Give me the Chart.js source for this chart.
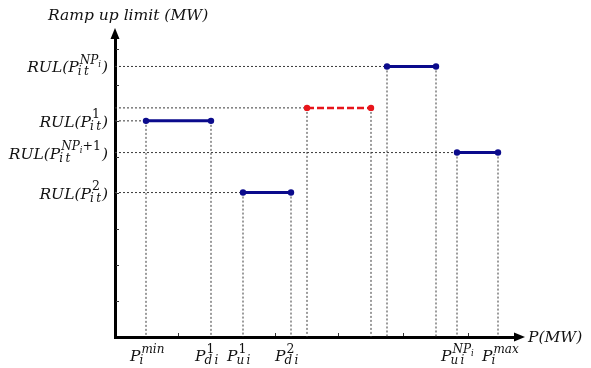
<!DOCTYPE html>
<html>
<head>
<meta charset="utf-8">
<script src="https://cdn.jsdelivr.net/npm/chart.js@4.4.1/dist/chart.umd.min.js"></script>
<style>
  body { margin: 0; background: #fff; }
</style>
</head>
<body>
<canvas id="chart" width="591" height="368"></canvas>
<script>
// step segments (P in MW along x, ramp up limit along y)
const segStart = [3.1, 12.8, 19.2, 27.2, 34.2];
const segEnd   = [9.6, 17.6, 25.6, 32.1, 38.3];
const segLevel = [6.0, 4.01, 6.36, 7.51, 5.12];
const segName  = ['RUL(P1)', 'RUL(P2)', 'projected', 'RUL(PNP)', 'RUL(PNP+1)'];
const projectedIdx = 2;

// tick labels
const yTickValues = [7.51, 6.0, 5.12, 4.01];
const yTickSup    = ['NP_i', '1', 'NP_i+1', '2'];
const yTickSub    = ['i t', 'i t', 'i t', 'i t'];
const xTickValues = [3.1, 9.6, 12.8, 17.6, 34.2, 38.3];
const xTickSup    = ['min', '1', '1', '2', 'NP_i', 'max'];
const xTickSub    = ['i', 'd i', 'u i', 'd i', 'u i', 'i'];

// small tick marks on the axes
const yMinorTicks = [1, 2, 3, 4, 5, 6, 7, 8];
const xMinorTicks = [6.3, 16.0, 22.3, 28.8, 35.3];

const serif = "'DejaVu Serif', 'Liberation Serif', serif";
const mainFont = 'italic 15.5px ' + serif;
const scriptFont = 'italic 12px ' + serif;
const digitFont = '12.5px ' + serif;
const tinyFont = 'italic 8.5px ' + serif;

function guide(x1, y1, x2, y2) {
    return {
        data: [{x: x1, y: y1}, {x: x2, y: y2}],
        showLine: true,
        borderColor: '#3a3a3a',
        borderWidth: 1,
        borderDash: [2, 2],
        pointRadius: 0,
        order: 2
    };
}

const datasets = [];
segStart.forEach(function (s, i) {
    datasets.push(guide(0, segLevel[i], s, segLevel[i]));
    datasets.push(guide(s, segLevel[i], s, 0));
    datasets.push(guide(segEnd[i], segLevel[i], segEnd[i], 0));
});
segStart.forEach(function (s, i) {
    const proj = i === projectedIdx;
    const col = proj ? '#e8151b' : '#0b0b8c';
    datasets.push({
        label: segName[i],
        data: [{x: s, y: segLevel[i]}, {x: segEnd[i], y: segLevel[i]}],
        showLine: true,
        borderColor: col,
        backgroundColor: col,
        pointBackgroundColor: col,
        pointBorderColor: col,
        borderWidth: proj ? 2.5 : 3,
        borderDash: proj ? [7, 3] : [],
        pointRadius: 3.2,
        pointBorderWidth: 0,
        order: 1
    });
});

// 'NP_i+1' -> runs; the char after '_' is lowered one more level
function parseScript(str) {
    const runs = [];
    let cur = '';
    for (let k = 0; k < str.length; k++) {
        if (str[k] === '_') {
            if (cur) runs.push({t: cur, low: false});
            cur = '';
            runs.push({t: str[k + 1], low: true});
            k++;
        } else {
            cur += str[k];
        }
    }
    if (cur) runs.push({t: cur, low: false});
    return runs;
}

function runFont(r) {
    if (r.low) return tinyFont;
    return /^[0-9+]+$/.test(r.t) ? digitFont : scriptFont;
}

function scriptWidth(ctx, runs) {
    let w = 0;
    runs.forEach(function (r) {
        ctx.font = runFont(r);
        w += ctx.measureText(r.t).width;
    });
    return w;
}

// draws prefix + P with sup/sub + suffix, starting at x
function drawMath(ctx, x, base, prefix, sup, sub, suffix) {
    ctx.font = mainFont;
    ctx.fillText(prefix, x, base);
    x += ctx.measureText(prefix).width + 1;
    const runs = parseScript(sup);
    let sx = x;
    runs.forEach(function (r) {
        ctx.font = runFont(r);
        ctx.fillText(r.t, sx, base - 8.5 + (r.low ? 3 : 0));
        sx += ctx.measureText(r.t).width;
    });
    ctx.font = scriptFont;
    const subTxt = sub.replace(' ', '\u2009');
    ctx.fillText(subTxt, x - 2, base + 3);
    const w = Math.max(sx - x, ctx.measureText(subTxt).width - 2);
    ctx.font = mainFont;
    ctx.fillText(suffix, x + w + 1, base);
}

function mathWidth(ctx, prefix, sup, sub, suffix) {
    ctx.font = mainFont;
    let w = ctx.measureText(prefix).width + ctx.measureText(suffix).width + 2;
    const sw = scriptWidth(ctx, parseScript(sup));
    ctx.font = scriptFont;
    return w + Math.max(sw, ctx.measureText(sub.replace(' ', '\u2009')).width - 2);
}

const decor = {
    id: 'decor',
    afterDraw: function (chart) {
        const ctx = chart.ctx;
        const a = chart.chartArea;
        const xs = chart.scales.x;
        const ys = chart.scales.y;
        ctx.save();
        ctx.strokeStyle = '#333';
        ctx.lineWidth = 1;
        yMinorTicks.forEach(function (v) {
            const py = Math.round(ys.getPixelForValue(v)) + 0.5;
            ctx.beginPath();
            ctx.moveTo(a.left + 1, py);
            ctx.lineTo(a.left + 4, py);
            ctx.stroke();
        });
        xMinorTicks.forEach(function (v) {
            const px = Math.round(xs.getPixelForValue(v)) + 0.5;
            ctx.beginPath();
            ctx.moveTo(px, a.bottom - 1);
            ctx.lineTo(px, a.bottom - 4);
            ctx.stroke();
        });
        // arrow heads
        ctx.fillStyle = '#000';
        ctx.beginPath();
        ctx.moveTo(a.left, a.top - 10);
        ctx.lineTo(a.left - 4.5, a.top + 1);
        ctx.lineTo(a.left + 4.5, a.top + 1);
        ctx.fill();
        ctx.beginPath();
        ctx.moveTo(a.right + 10, a.bottom);
        ctx.lineTo(a.right - 1, a.bottom - 4.5);
        ctx.lineTo(a.right - 1, a.bottom + 4.5);
        ctx.fill();

        ctx.fillStyle = '#111';
        ctx.textBaseline = 'alphabetic';
        ctx.textAlign = 'left';
        ctx.font = mainFont;
        ctx.fillText('Ramp up limit (MW)', 48, 20);
        ctx.fillText('P(MW)', a.right + 13, a.bottom + 5);

        yTickValues.forEach(function (v, i) {
            const base = ys.getPixelForValue(v) + 6;
            const w = mathWidth(ctx, 'RUL(P', yTickSup[i], yTickSub[i], ')');
            drawMath(ctx, 108 - w, base, 'RUL(P', yTickSup[i], yTickSub[i], ')');
        });
        xTickValues.forEach(function (v, i) {
            const px = xs.getPixelForValue(v);
            drawMath(ctx, px - 16, a.bottom + 24, 'P', xTickSup[i], xTickSub[i], '');
        });
        ctx.restore();
    }
};

const axisOpts = function (max) {
    return {
        type: 'linear',
        min: 0,
        max: max,
        grid: {display: false, drawTicks: false},
        border: {display: true, color: '#000', width: 3},
        ticks: {display: false}
    };
};

new Chart(document.getElementById('chart').getContext('2d'), {
    type: 'scatter',
    data: {datasets: datasets},
    options: {
        responsive: false,
        animation: false,
        devicePixelRatio: 1,
        layout: {padding: {left: 115, right: 76, top: 38, bottom: 31}},
        scales: {x: axisOpts(40), y: axisOpts(8.3)},
        plugins: {legend: {display: false}, tooltip: {enabled: false}}
    },
    plugins: [decor]
});
</script>
</body>
</html>
